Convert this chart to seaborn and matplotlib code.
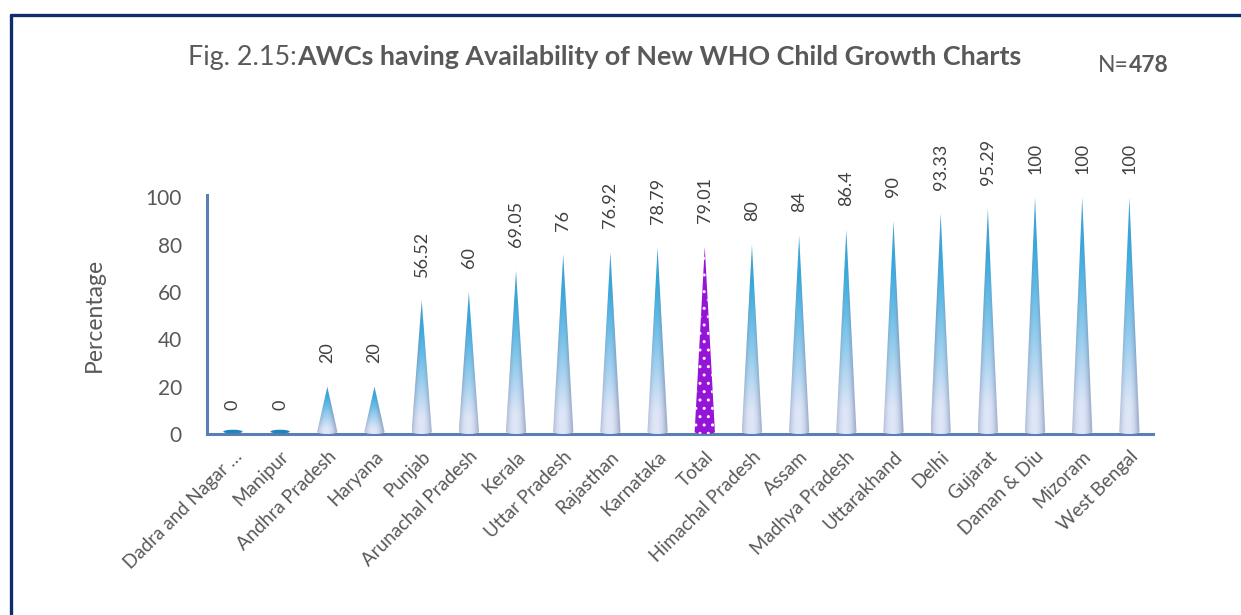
import numpy as np
import matplotlib
matplotlib.use("Agg")
import matplotlib.pyplot as plt
from matplotlib.patches import Polygon, Ellipse
from matplotlib.lines import Line2D
import seaborn as sns

# Data
states = ["Dadra and Nagar \u2026", "Manipur", "Andhra Pradesh", "Haryana", "Punjab",
          "Arunachal Pradesh", "Kerala", "Uttar Pradesh", "Rajasthan", "Karnataka",
          "Total", "Himachal Pradesh", "Assam", "Madhya Pradesh", "Uttarakhand",
          "Delhi", "Gujarat", "Daman & Diu", "Mizoram", "West Bengal"]
values = [0, 0, 20, 20, 56.52, 60, 69.05, 76, 76.92, 78.79,
          79.01, 80, 84, 86.4, 90, 93.33, 95.29, 100, 100, 100]
value_labels = ["0", "0", "20", "20", "56.52", "60", "69.05", "76", "76.92", "78.79",
                "79.01", "80", "84", "86.4", "90", "93.33", "95.29", "100", "100", "100"]
yticks = [0, 20, 40, 60, 80, 100]
highlight = "Total"

sns.set_theme(style="white")
plt.rcParams["font.family"] = ["Lato", "DejaVu Sans"]
TEXT = "#595959"
AXIS = "#5b7fb5"

W, H = 1241, 615
fig = plt.figure(figsize=(W / 100, H / 100), dpi=100)
fig.patch.set_facecolor("white")

ax = fig.add_axes([207 / W, 1 - 434 / H, (1153 - 207) / W, (434 - 195) / H])

sns.barplot(x=states, y=values, ax=ax, width=0.43, color="#3aa8dc",
            order=states, errorbar=None)


def cone_image(n_rows=240, n_cols=80):
    """Shaded RGB texture for a blue cone: pale at the base, cyan towards the tip."""
    t = np.linspace(0, 1, n_rows)[:, None]          # 0 bottom, 1 top
    u = np.linspace(-1, 1, n_cols)[None, :]
    hw = np.clip(1 - t, 0.02, None)
    r = np.clip(np.abs(u + 0.12 * hw) / hw, 0, 1)
    pale = np.array([0.87, 0.90, 0.97])
    cyan = np.array([0.18, 0.67, 0.88])
    s = np.clip((t - 0.12) / 0.68, 0, 1) ** 1.05
    base = pale * (1 - s[..., None]) + cyan * s[..., None]
    edge = np.array([0.48, 0.56, 0.70])
    k = (r ** 2.4)[..., None] * 0.6
    img = base * (1 - k) + edge * k
    return np.clip(img[::-1], 0, 1)


tex = cone_image()
bars = list(ax.patches)
for name, val, bar in zip(states, values, bars):
    x0 = bar.get_x()
    w = bar.get_width()
    h = bar.get_height()
    cx = x0 + w / 2
    bar.set_visible(False)
    if h == 0:
        ax.add_patch(Ellipse((cx, 1.0), w * 0.95, 1.6, facecolor="#1f84b8",
                             edgecolor="none", zorder=3, clip_on=False))
        continue
    # cone outline with a slightly rounded base
    theta = np.linspace(np.pi, 2 * np.pi, 30)
    base_x = cx + (w / 2) * np.cos(theta)
    base_y = 0.9 + 0.9 * np.sin(theta)
    pts = [(cx, h)] + list(zip(base_x, base_y))
    if name == highlight:
        cone = Polygon(pts, closed=True, facecolor="#9614d8", edgecolor="white",
                       hatch="..", linewidth=0, zorder=3)
        ax.add_patch(cone)
    else:
        cone = Polygon(pts, closed=True, facecolor="none", edgecolor="none", zorder=3)
        ax.add_patch(cone)
        im = ax.imshow(tex, extent=[x0, x0 + w, 0, h], aspect="auto",
                       interpolation="bilinear", zorder=3)
        im.set_clip_path(cone)

# value labels above each cone
for i, (val, lab) in enumerate(zip(values, value_labels)):
    ax.annotate(lab, (i, val), xytext=(0, 17), textcoords="offset points",
                rotation=90, ha="center", va="bottom", fontsize=13,
                color="#404040", annotation_clip=False)

ax.set_xlim(-0.55, 19.5)
ax.set_ylim(0, 101)
ax.set_yticks(yticks)
ax.set_yticklabels([str(v) for v in yticks], fontsize=15, color=TEXT)
ax.set_xticks(range(len(states)))
ax.set_xticklabels(states, rotation=45, ha="right", rotation_mode="anchor",
                   fontsize=13.5, color=TEXT)
ax.tick_params(axis="x", length=0, pad=10)
ax.tick_params(axis="y", length=0, pad=18)
ax.set_xlabel("")
ax.set_ylabel("Percentage", fontsize=16.5, color=TEXT)
ax.yaxis.set_label_coords(-0.108, 0.5)
ax.grid(False)
ax.set_facecolor("none")
for side in ("top", "right"):
    ax.spines[side].set_visible(False)
for side in ("left", "bottom"):
    ax.spines[side].set_color(AXIS)
    ax.spines[side].set_linewidth(2.2)

# outer frame (left and top edges)
frame_col = "#0f2c6e"
fig.add_artist(Line2D([11 / W, 11 / W], [0, 1 - 15 / H], color=frame_col, lw=2.4))
fig.add_artist(Line2D([11 / W, 1], [1 - 15 / H, 1 - 15 / H], color=frame_col, lw=2.4))

# title with a plain prefix and a bold body
fig.canvas.draw()
renderer = fig.canvas.get_renderer()
t1 = fig.text(188 / W, 1 - 57 / H, "Fig. 2.15:", fontsize=19.4, color=TEXT,
              ha="left", va="center")
ext = t1.get_window_extent(renderer)
fig.text(ext.x1 / W, 1 - 57 / H, "AWCs having Availability of New WHO Child Growth Charts",
         fontsize=19.4, color=TEXT, fontweight="bold", ha="left", va="center")

n1 = fig.text(1098 / W, 1 - 65 / H, "N=", fontsize=16.5, color=TEXT, ha="left", va="center")
ext = n1.get_window_extent(renderer)
fig.text(ext.x1 / W, 1 - 65 / H, "478", fontsize=16.5, color=TEXT, fontweight="bold",
         ha="left", va="center")

fig.savefig("out.png", dpi=100, facecolor="white")
